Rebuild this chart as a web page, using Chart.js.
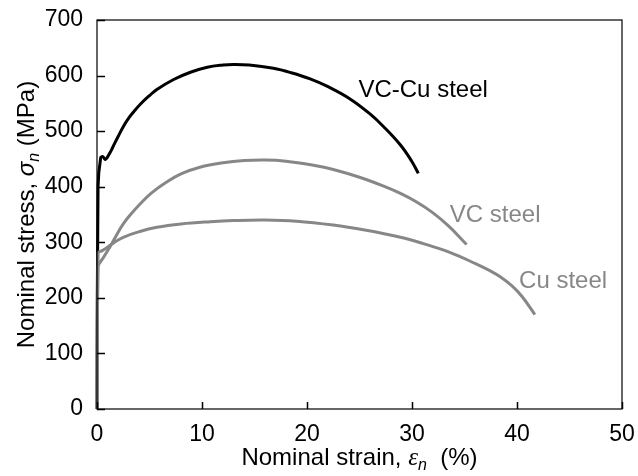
<!DOCTYPE html>
<html>
<head>
<meta charset="utf-8">
<script src="https://cdn.jsdelivr.net/npm/chart.js@4.4.1/dist/chart.umd.min.js"></script>
<style>
  html, body { margin: 0; padding: 0; background: #fff; }
  #chart { display: block; }
</style>
</head>
<body>
<canvas id="chart" width="638" height="476"></canvas>
<script>
// VC-Cu steel
const strainVCCu = [0, 0.1, 0.35, 0.55, 0.8, 1.2, 1.5, 2.0, 2.5, 3.0, 3.5, 4.1, 5.0, 5.7, 7.3, 8.9, 10.5, 12, 13, 14.5, 16.8, 18.5, 20.3, 22, 24.1, 26, 27.3, 28.9, 30.0, 30.6];
const stressVCCu = [0, 400, 452, 454, 449, 460, 471, 490, 508, 523, 535, 548, 564, 575, 593, 606, 615, 619, 620, 619, 613, 605, 594, 580, 558, 531, 508, 475, 445, 424];

// VC steel
const strainVC = [0, 0.1, 0.6, 1.24, 1.8, 2.5, 3.2, 4.1, 5.2, 6.6, 8, 9.8, 12, 14, 16, 18, 20.5, 22.5, 25, 27.3, 28.9, 30.4, 32.0, 33.5, 35.2];
const stressVC = [0, 255, 272, 292, 311, 333, 350, 369, 389, 408, 423, 435, 443, 447, 448, 446, 439, 431, 417, 401, 388, 373, 353, 329, 296];

// Cu steel
const strainCu = [0, 0.1, 0.5, 1.0, 1.5, 2.5, 4, 5.7, 8, 10.8, 13, 16, 19, 22.5, 25.5, 28.9, 31, 33.6, 36, 37.5, 38.4, 39.5, 40.5, 41.7];
const stressCu = [0, 280, 285, 291, 298, 309, 319, 327, 333, 337, 339, 340, 338, 331, 322, 309, 298, 282, 262, 248, 238, 222, 202, 170];

const xTicks = [0, 10, 20, 30, 40, 50];
const yTicks = [0, 100, 200, 300, 400, 500, 600, 700];

const GRAY = "#878787";
const SANS = "'Liberation Sans', Arial, sans-serif";
const SERIF = "'Liberation Serif', 'Times New Roman', serif";

function toPoints(xs, ys) {
    return xs.map((x, i) => ({ x, y: ys[i] }));
}

// curve labels, placed in data coordinates
const curveLabels = [
    { text: "VC-Cu steel", x: 24.9, y: 562, color: "#000" },
    { text: "VC steel", x: 33.6, y: 336, color: GRAY },
    { text: "Cu steel", x: 40.2, y: 218, color: GRAY },
];

function drawRich(ctx, parts, x, y) {
    let total = 0;
    parts.forEach((p) => {
        ctx.font = p.font;
        p.w = ctx.measureText(p.text).width;
        total += p.w;
    });
    let cx = x - total / 2;
    parts.forEach((p) => {
        ctx.font = p.font;
        ctx.fillText(p.text, cx, y + (p.dy || 0));
        cx += p.w;
    });
}

function noScalePadding(scale) {
    scale.paddingLeft = 0;
    scale.paddingRight = 0;
    scale.paddingTop = 0;
    scale.paddingBottom = 0;
}

const framePlugin = {
    id: "frame",
    afterDraw(chart) {
        const { ctx, chartArea: a, scales } = chart;
        ctx.save();
        ctx.strokeStyle = "#000";
        ctx.lineWidth = 1.2;
        ctx.strokeRect(a.left, a.top, a.right - a.left, a.bottom - a.top);

        // inward tick marks
        ctx.lineWidth = 1.5;
        ctx.beginPath();
        scales.x.ticks.forEach((t) => {
            const px = Math.round(scales.x.getPixelForValue(t.value)) + 0.5;
            ctx.moveTo(px, a.bottom);
            ctx.lineTo(px, a.bottom - 7);
        });
        scales.y.ticks.forEach((t) => {
            const py = Math.round(scales.y.getPixelForValue(t.value)) + 0.5;
            ctx.moveTo(a.left, py);
            ctx.lineTo(a.left + 8, py);
        });
        ctx.stroke();

        // curve labels
        ctx.textBaseline = "alphabetic";
        ctx.textAlign = "left";
        ctx.font = "24px " + SANS;
        curveLabels.forEach((l) => {
            ctx.fillStyle = l.color;
            ctx.fillText(l.text, scales.x.getPixelForValue(l.x), scales.y.getPixelForValue(l.y));
        });

        // axis titles
        ctx.fillStyle = "#000";
        drawRich(ctx, [
            { text: "Nominal strain, ", font: "24px " + SANS },
            { text: "\u03b5", font: "italic 25px " + SERIF },
            { text: "n", font: "italic 16px " + SANS, dy: 5 },
            { text: "  (%)", font: "24px " + SANS },
        ], (a.left + a.right) / 2, 465);

        ctx.translate(34, (a.top + a.bottom) / 2);
        ctx.rotate(-Math.PI / 2);
        drawRich(ctx, [
            { text: "Nominal stress, ", font: "24px " + SANS },
            { text: "\u03c3", font: "italic 24px " + SANS },
            { text: "n", font: "italic 16px " + SANS, dy: 5 },
            { text: " (MPa)", font: "24px " + SANS },
        ], 0, 0);
        ctx.restore();
    },
};

const lineStyle = {
    borderWidth: 3,
    pointRadius: 0,
    fill: false,
    tension: 0.4,
    clip: false,
};

new Chart(document.getElementById("chart"), {
    type: "line",
    data: {
        datasets: [
            { label: "Cu steel", data: toPoints(strainCu, stressCu), borderColor: GRAY, ...lineStyle },
            { label: "VC steel", data: toPoints(strainVC, stressVC), borderColor: GRAY, ...lineStyle },
            { label: "VC-Cu steel", data: toPoints(strainVCCu, stressVCCu), borderColor: "#000", ...lineStyle },
        ],
    },
    options: {
        responsive: false,
        animation: false,
        layout: { padding: { top: 20, right: 16, left: 0, bottom: 0 } },
        plugins: {
            legend: { display: false },
            tooltip: { enabled: false },
        },
        scales: {
            x: {
                type: "linear",
                min: 0,
                max: 50,
                afterBuildTicks(scale) {
                    scale.ticks = xTicks.map((v) => ({ value: v }));
                },
                afterFit(scale) {
                    scale.height = 67;
                    noScalePadding(scale);
                },
                grid: { display: false, drawTicks: false },
                border: { display: false },
                ticks: {
                    color: "#000",
                    padding: 12,
                    maxRotation: 0,
                    font: { family: SANS, size: 23 },
                },
            },
            y: {
                min: 0,
                max: 700,
                afterBuildTicks(scale) {
                    scale.ticks = yTicks.map((v) => ({ value: v }));
                },
                afterFit(scale) {
                    scale.width = 97;
                    noScalePadding(scale);
                },
                grid: { display: false, drawTicks: false },
                border: { display: false },
                ticks: {
                    color: "#000",
                    padding: 14,
                    font: { family: SANS, size: 23 },
                },
            },
        },
    },
    plugins: [framePlugin],
});
</script>
</body>
</html>
